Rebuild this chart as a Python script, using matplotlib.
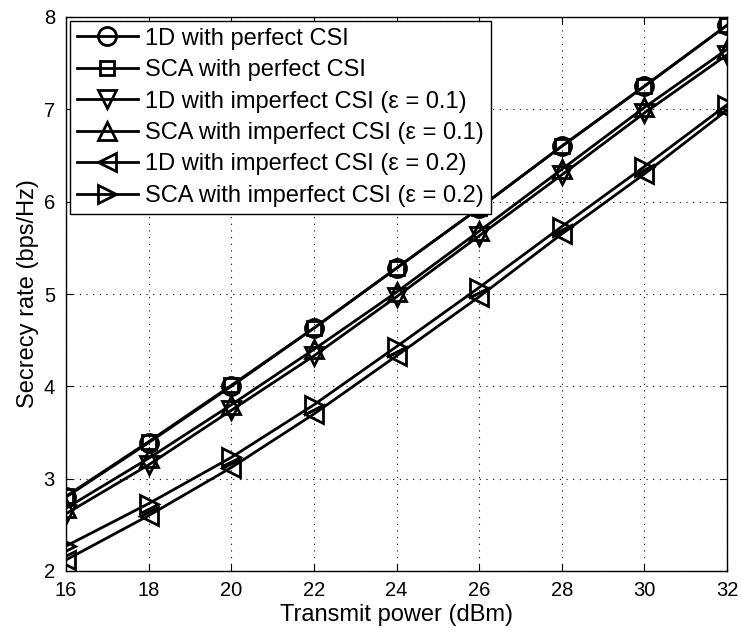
# Secrecy rate vs transmit power

import matplotlib.pyplot as plt

plt.rcParams['font.family'] = ['Liberation Sans', 'DejaVu Sans']

power = [16, 18, 20, 22, 24, 26, 28, 30, 32]

# 完美CSI
od_perfect = [2.80, 3.39, 4.00, 4.63, 5.28, 5.93, 6.60, 7.25, 7.91]
sca_perfect = [2.81, 3.40, 4.01, 4.63, 5.28, 5.93, 6.60, 7.25, 7.91]
# 不完美CSI eps=0.1
od_eps1 = [2.62, 3.15, 3.74, 4.33, 4.97, 5.63, 6.29, 6.96, 7.59]
sca_eps1 = [2.68, 3.22, 3.80, 4.40, 5.02, 5.68, 6.35, 7.02, 7.65]
# 不完美CSI eps=0.2
od_eps2 = [2.12, 2.60, 3.12, 3.70, 4.33, 4.97, 5.65, 6.30, 6.99]
sca_eps2 = [2.27, 2.73, 3.23, 3.80, 4.43, 5.07, 5.73, 6.38, 7.05]

series = [
    (od_perfect, 'o', '1D with perfect CSI'),
    (sca_perfect, 's', 'SCA with perfect CSI'),
    (od_eps1, 'v', '1D with imperfect CSI (\u03b5 = 0.1)'),
    (sca_eps1, '^', 'SCA with imperfect CSI (\u03b5 = 0.1)'),
    (od_eps2, '<', '1D with imperfect CSI (\u03b5 = 0.2)'),
    (sca_eps2, '>', 'SCA with imperfect CSI (\u03b5 = 0.2)'),
]

fig = plt.figure(figsize=(7.41, 6.33), dpi=100)
ax = fig.add_axes([66 / 741, 1 - 571 / 633, 661 / 741, 554 / 633])

for vals, m, lab in series:
    ms = 10 if m == 's' else 13
    ax.plot(power, vals, color='black', marker=m, markersize=ms,
            markerfacecolor='none', markeredgewidth=2, linewidth=2, label=lab)

ax.set_xlim(16, 32)
ax.set_ylim(2, 8)
ax.set_xticks(power)
ax.set_yticks(range(2, 9))
ax.grid(True, linestyle=(0, (1, 5)), color='black', linewidth=0.8)
ax.tick_params(direction='in', top=True, right=True, labelsize=14.5, length=5)
ax.tick_params(axis='x', pad=7)
ax.tick_params(axis='y', pad=8)
for s in ax.spines.values():
    s.set_linewidth(1)

ax.set_xlabel('Transmit power (dBm)', fontsize=17, labelpad=3)
ax.set_ylabel('Secrecy rate (bps/Hz)', fontsize=17, labelpad=3)

leg = ax.legend(loc='upper left', fontsize=17, fancybox=False, framealpha=1,
                edgecolor='black', handlelength=2.6, borderaxespad=0.15,
                labelspacing=0.4, handletextpad=0.3, borderpad=0.3)
leg.get_frame().set_linewidth(1)

plt.savefig('out.png')
